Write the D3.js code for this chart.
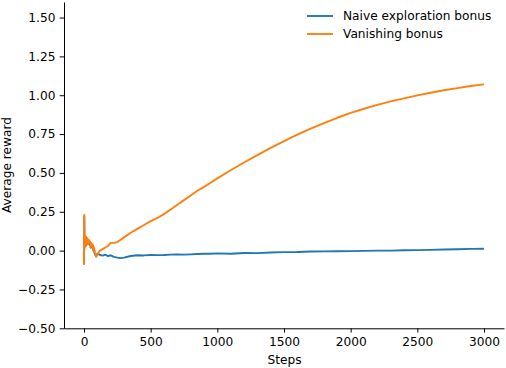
<!DOCTYPE html>
<html>
<head>
<meta charset="utf-8">
<script src="https://cdn.jsdelivr.net/npm/d3@7"></script>
<style>
html,body{margin:0;padding:0;background:#fff;}
svg{display:block;}
text{font-family:"DejaVu Sans",sans-serif;}
</style>
</head>
<body>
<svg id="chart" width="506" height="368"></svg>
<script>
const steps = [0,2,4,6,8,10,13,16,20,25,30,35,40,45,50,55,60,65,70,75,80,90,100,110,120,140,160,180,200,225,250,275,300,350,400,450,500,550,600,650,700,750,800,850,900,950,1000,1100,1200,1300,1400,1500,1600,1700,1800,1900,2000,2100,2200,2300,2400,2500,2600,2700,2800,2900,3000];
const naiveBonus = [-0.09,0.22,0.02,0.09,0.05,0.07,0.03,0.08,0.05,0.07,0.04,0.06,0.04,0.05,0.02,0.04,0.02,0.03,0.00,0.01,-0.02,-0.035,-0.02,-0.022,-0.028,-0.032,-0.026,-0.036,-0.03,-0.04,-0.045,-0.048,-0.045,-0.035,-0.03,-0.031,-0.028,-0.029,-0.028,-0.026,-0.025,-0.026,-0.024,-0.022,-0.02,-0.02,-0.018,-0.02,-0.015,-0.016,-0.012,-0.01,-0.009,-0.006,-0.005,-0.004,-0.003,-0.002,0.0,0.0,0.002,0.003,0.005,0.007,0.009,0.011,0.012];
const vanishingBonus = [-0.09,0.23,0.02,0.10,0.05,0.08,0.03,0.09,0.06,0.08,0.04,0.07,0.05,0.06,0.02,0.05,0.03,0.04,0.00,0.02,-0.01,-0.04,-0.03,-0.01,0.00,0.01,0.02,0.03,0.05,0.05,0.055,0.07,0.085,0.115,0.14,0.165,0.19,0.21,0.235,0.265,0.295,0.325,0.355,0.385,0.41,0.437,0.465,0.517,0.567,0.615,0.661,0.705,0.746,0.785,0.821,0.855,0.886,0.913,0.938,0.96,0.98,0.999,1.016,1.032,1.046,1.059,1.07];
const seriesNames = ["Naive exploration bonus","Vanishing bonus"];
const seriesColors = ["#1f77b4","#ff7f0e"];
const xTicks = [0,500,1000,1500,2000,2500,3000];
const yTicks = [-0.5,-0.25,0,0.25,0.5,0.75,1.0,1.25,1.5];

const svg = d3.select("#chart");
const FS = 12.2;
const x = d3.scaleLinear().domain([-150,3150]).range([64,504]);
const y = d3.scaleLinear().domain([-0.5,1.6]).range([328.3,2]);

const fmt = v => { const s = d3.format(".2f")(Math.abs(v)); return (v < 0 ? "\u2212" : "") + s; };

const xAxis = svg.append("g").attr("transform","translate(0,328.3)")
  .call(d3.axisBottom(x).tickValues(xTicks).tickFormat(d3.format("d")).tickSize(4.3).tickPadding(4.3).tickSizeOuter(0));
const yAxis = svg.append("g").attr("transform","translate(64,0)")
  .call(d3.axisLeft(y).tickValues(yTicks).tickFormat(fmt).tickSize(4.3).tickPadding(4.3).tickSizeOuter(0));
[xAxis,yAxis].forEach(g=>{
  g.selectAll("text").attr("font-size",FS).attr("font-family","DejaVu Sans").attr("fill","#000");
  g.select(".domain").attr("stroke","#000").attr("stroke-width",1);
  g.selectAll(".tick line").attr("stroke","#000").attr("stroke-width",1);
});

const line = d3.line().x((d,i)=>x(steps[i])).y(d=>y(d));
const data = [naiveBonus, vanishingBonus];
data.forEach((s,k)=>{
  svg.append("path").datum(s).attr("d",line).attr("fill","none")
    .attr("stroke",seriesColors[k]).attr("stroke-width",1.9).attr("stroke-linejoin","round");
});

svg.append("text").attr("x",284.5).attr("y",364).attr("text-anchor","middle").attr("font-size",FS).text("Steps");
svg.append("text").attr("transform","translate(11,165) rotate(-90)").attr("text-anchor","middle").attr("font-size",FS).text("Average reward");

const leg = svg.append("g");
seriesNames.forEach((n,k)=>{
  const yy = 16 + k*18;
  leg.append("line").attr("x1",307).attr("x2",333).attr("y1",yy).attr("y2",yy).attr("stroke",seriesColors[k]).attr("stroke-width",1.9);
  leg.append("text").attr("x",343).attr("y",yy).attr("dy","0.36em").attr("font-size",FS).text(n);
});
</script>
</body>
</html>
